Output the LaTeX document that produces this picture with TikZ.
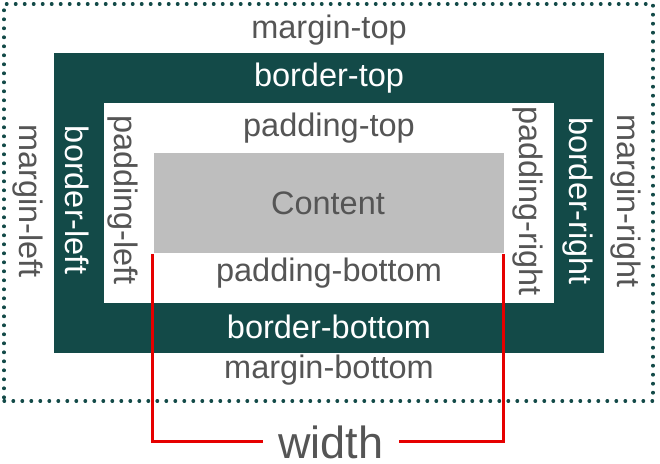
\documentclass[tikz,border=0pt]{standalone}
\usepackage{fontspec}
\setmainfont{Liberation Sans}
\definecolor{teal}{RGB}{19,74,72}
\definecolor{txtgray}{RGB}{85,85,85}
\definecolor{boxgray}{RGB}{190,190,190}
\definecolor{redline}{RGB}{230,0,0}
\tikzset{
  boxrect/.style={inner sep=0pt, outer sep=0pt, anchor=north west},
  marginbox/.style={boxrect, draw=teal, line width=3.2pt, dash pattern=on 0.6pt off 8.4pt, line cap=round},
  borderbox/.style={boxrect, fill=teal},
  paddingbox/.style={boxrect, fill=white},
  contentbox/.style={boxrect, fill=boxgray},
  lbl/.style={inner sep=0pt, text=txtgray, font=\fontsize{32.5}{39}\selectfont},
  wlbl/.style={lbl, text=white},
  vlbl/.style={lbl, rotate=-90},
  wvlbl/.style={wlbl, rotate=-90},
  redstroke/.style={draw=redline, line width=3pt},
  widthlbl/.style={inner ysep=0pt, inner xsep=15pt, text=txtgray, font=\fontsize{45}{54}\selectfont}
}
\begin{document}
\begin{tikzpicture}[x=1pt,y=-1pt]
\useasboundingbox (0,0) rectangle (660,463);
\node (margin) [marginbox, minimum width=649pt, minimum height=397pt] at (4,4) {};
\node (border) [borderbox, minimum width=550pt, minimum height=300pt] at (54,53) {};
\node (padding) [paddingbox, minimum width=450pt, minimum height=200pt] at (104,103) {};
\node (content) [contentbox, minimum width=350pt, minimum height=100pt] at (154,153) {};
% horizontal labels
\node (mt) [lbl] at (329,30) {margin-top};
\node (bt) [wlbl] at (329,78) {border-top};
\node (pt) [lbl] at (329,128) {padding-top};
\node (ct) [lbl] at (328,203) {Content};
\node (pb) [lbl] at (329,273) {padding-bottom};
\node (bb) [wlbl] at (329,327) {border-bottom};
\node (mb) [lbl] at (329,370) {margin-bottom};
% vertical labels
\node (ml) [vlbl] at (28,201) {margin-left};
\node (bl) [wvlbl] at (77,200) {border-left};
\node (pl) [vlbl] at (123,200) {padding-left};
\node (pr) [vlbl] at (528,201) {padding-right};
\node (br) [wvlbl] at (578,201) {border-right};
\node (mr) [vlbl] at (626,201) {margin-right};
% width
\node (width) [widthlbl, anchor=base] at (331,458) {width};
\coordinate (wl) at (152,254);
\coordinate (wr) at (503,254);
\draw[redstroke] (wl) |- (width.west);
\draw[redstroke] (wr) |- (width.east);
\end{tikzpicture}
\end{document}
